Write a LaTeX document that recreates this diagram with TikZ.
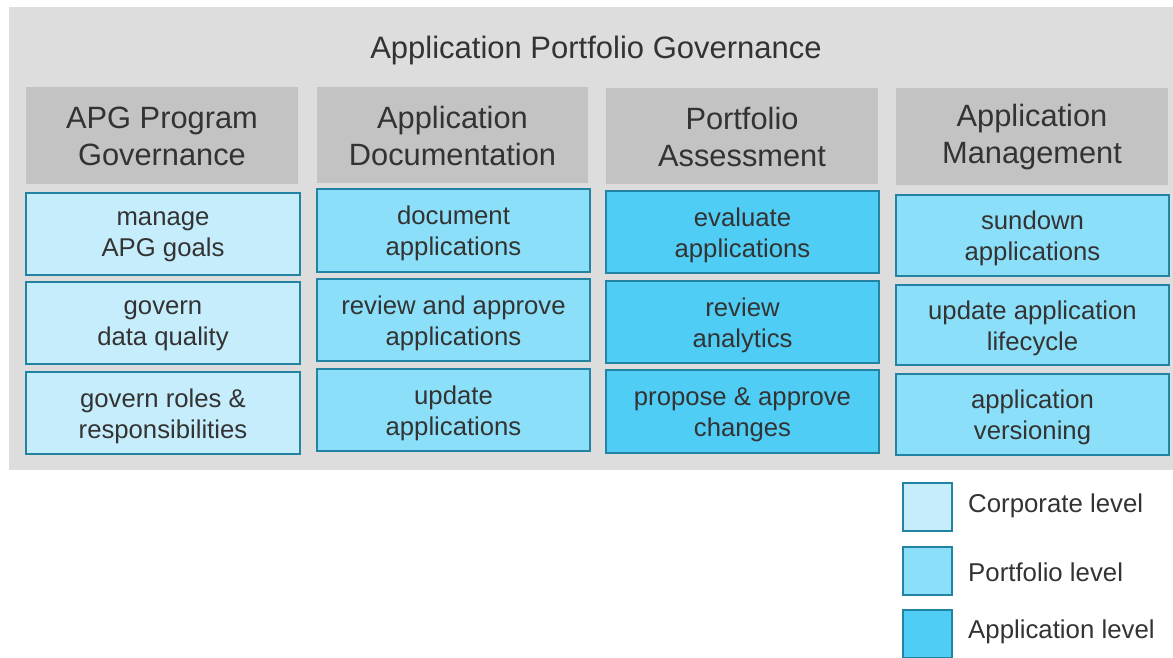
\documentclass[tikz,border=0pt]{standalone}
\usepackage{fontspec}
\setmainfont{Liberation Sans}
\definecolor{bggray}{HTML}{DDDDDD}
\definecolor{hdrgray}{HTML}{C3C3C3}
\definecolor{corp}{HTML}{C6EDFB}
\definecolor{port}{HTML}{8CDFF8}
\definecolor{appl}{HTML}{50CDF5}
\definecolor{edge}{HTML}{2383A3}
\definecolor{txt}{HTML}{333333}
\tikzset{
  hdr/.style={fill=hdrgray, draw=none, inner sep=0pt},
  cell/.style={draw=edge, line width=1.8pt, inner sep=0pt},
  corpbox/.style={cell, fill=corp},
  portbox/.style={cell, fill=port},
  applbox/.style={cell, fill=appl},
  hdrtxt/.style={inner sep=0pt, align=center, text=txt, yshift=2pt, font=\fontsize{30.8}{37}\selectfont},
  celltxt/.style={inner sep=0pt, align=center, text=txt, font=\fontsize{25.7}{31}\selectfont},
  legtxt/.style={anchor=west, inner sep=0pt, text=txt, font=\fontsize{25.8}{30}\selectfont},
}
% \rectnode{box style}{text style}{name}{x1}{y1}{x2}{y2}{text}
\newcommand{\rectnode}[8]{%
  \node[#1, minimum width={(#6-#4)*1pt}, minimum height={(#7-#5)*1pt}]
    (#3) at ({(#4+#6)/2},{(#5+#7)/2}) {};
  \node[#2] (#3-t) at ([yshift=-3pt]#3.center) {#8};}
\begin{document}
\begin{tikzpicture}[x=1pt,y=-1pt]
\useasboundingbox (0,0) rectangle (1173,657);
\fill[white] (0,0) rectangle (1173,657);
% background panel
\node[fill=bggray, draw=none, inner sep=0pt, minimum width=1164pt, minimum height=463pt]
  (panel) at (591,238.5) {};
\node[text=txt, inner sep=0pt, font=\fontsize{31}{37}\selectfont] (title) at (596,50) {Application Portfolio Governance};
% headers
\rectnode{hdr}{hdrtxt}{h1}{26}{87}{298}{184}{APG Program\\Governance}
\rectnode{hdr}{hdrtxt}{h2}{317}{87}{588}{183}{Application\\Documentation}
\rectnode{hdr}{hdrtxt}{h3}{606}{88}{878}{184}{Portfolio\\Assessment}
\rectnode{hdr}{hdrtxt}{h4}{896}{88}{1168}{185}{Application\\Management}
% column 1
\rectnode{corpbox}{celltxt}{a1}{26}{193}{300}{275}{manage\\APG goals}
\rectnode{corpbox}{celltxt}{a2}{26}{282}{300}{364}{govern\\data quality}
\rectnode{corpbox}{celltxt}{a3}{26}{372}{300}{454}{govern roles \&\\responsibilities}
% column 2
\rectnode{portbox}{celltxt}{b1}{317}{189}{590}{272}{document\\applications}
\rectnode{portbox}{celltxt}{b2}{317}{279}{590}{361}{review and approve\\applications}
\rectnode{portbox}{celltxt}{b3}{317}{369}{590}{451}{update\\applications}
% column 3
\rectnode{applbox}{celltxt}{c1}{606}{191}{879}{273}{evaluate\\applications}
\rectnode{applbox}{celltxt}{c2}{606}{281}{879}{363}{review\\analytics}
\rectnode{applbox}{celltxt}{c3}{606}{370}{879}{453}{propose \& approve\\changes}
% column 4
\rectnode{portbox}{celltxt}{d1}{896}{195}{1169}{276}{sundown\\applications}
\rectnode{portbox}{celltxt}{d2}{896}{285}{1169}{365}{update application\\lifecycle}
\rectnode{portbox}{celltxt}{d3}{896}{374}{1169}{455}{application\\versioning}
% legend
\rectnode{corpbox}{celltxt}{l1}{903}{483}{952}{531}{}
\rectnode{portbox}{celltxt}{l2}{903}{547}{952}{595}{}
\rectnode{applbox}{celltxt}{l3}{903}{610}{952}{658}{}
\node[legtxt] (t1) at (968,506) {Corporate level};
\node[legtxt] (t2) at (968,572) {Portfolio level};
\node[legtxt] (t3) at (968,632) {Application level};
\end{tikzpicture}
\end{document}
